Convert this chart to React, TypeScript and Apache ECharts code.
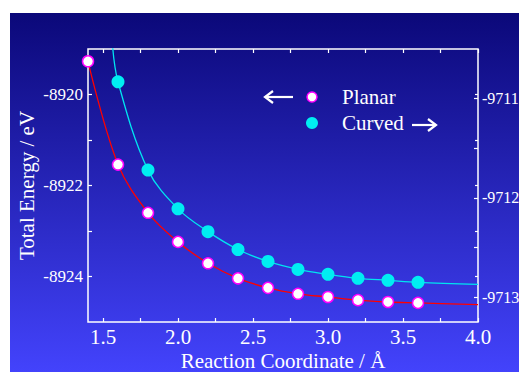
import React, { useEffect, useRef } from "react";
import * as echarts from "echarts";

// Data
const planarX = [1.4, 1.6, 1.8, 2.0, 2.2, 2.4, 2.6, 2.8, 3.0, 3.2, 3.4, 3.6];
const planarY = [-8919.27, -8921.54, -8922.6, -8923.24, -8923.71, -8924.04, -8924.25, -8924.38, -8924.45, -8924.52, -8924.56, -8924.58];
const curvedX = [1.6, 1.8, 2.0, 2.2, 2.4, 2.6, 2.8, 3.0, 3.2, 3.4, 3.6];
const curvedY = [-9710.83, -9711.72, -9712.11, -9712.34, -9712.52, -9712.64, -9712.72, -9712.77, -9712.81, -9712.83, -9712.85];

// Fitted curves
const planarFitX = [1.4, 1.6, 1.8, 2.0, 2.2, 2.4, 2.6, 2.8, 3.0, 3.2, 3.4, 3.6, 4.0];
const planarFitY = [-8919.27, -8921.54, -8922.6, -8923.24, -8923.71, -8924.04, -8924.25, -8924.38, -8924.45, -8924.52, -8924.56, -8924.58, -8924.62];
const curvedFitX = [1.56, 1.6, 1.8, 2.0, 2.2, 2.4, 2.6, 2.8, 3.0, 3.2, 3.4, 3.6, 4.0];
const curvedFitY = [-9710.4, -9710.83, -9711.72, -9712.11, -9712.34, -9712.52, -9712.64, -9712.72, -9712.77, -9712.81, -9712.83, -9712.85, -9712.87];

// Axis ticks and labels
const xLabels = [1.5, 2.0, 2.5, 3.0, 3.5, 4.0];
const xTicks = [1.5, 1.75, 2.0, 2.25, 2.5, 2.75, 3.0, 3.25, 3.5, 3.75, 4.0];
const leftLabels = [-8924, -8922, -8920];
const leftTicks = [-8924, -8923, -8922, -8921, -8920];
const rightLabels = [-9713, -9712, -9711];
const rightTicks = [-9713, -9712.5, -9712, -9711.5, -9711];

const FONT = "'Liberation Serif', 'DejaVu Serif', serif";

const App: React.FC = () => {
  const ref = useRef<HTMLDivElement>(null);

  useEffect(() => {
    document.body.style.margin = "0";
    if (!ref.current) return;
    const chart = echarts.init(ref.current, undefined, { renderer: "svg" });

    const zip = (xs: number[], ys: number[]) => xs.map((x, i) => [x, ys[i]]);

    const baseX = {
      type: "value" as const,
      min: 1.4,
      max: 4.0,
      splitLine: { show: false },
      axisLine: { show: false, onZero: false },
    };

    const tickStyle = { color: "#fff", width: 1.2 };

    const option: any = {
      animation: false,
      backgroundColor: "#ffffff",
      graphic: [
        {
          type: "rect",
          z: -10,
          silent: true,
          shape: { x: 10, y: 13, width: 509, height: 359 },
          style: {
            fill: {
              type: "linear",
              x: 0,
              y: 0,
              x2: 0,
              y2: 1,
              colorStops: [
                { offset: 0, color: "#0b0879" },
                { offset: 1, color: "#4343fc" },
              ],
            },
          },
        },
        // legend arrows
        { type: "line", z: 10, shape: { x1: 265, y1: 97, x2: 293, y2: 97 }, style: { stroke: "#fff", lineWidth: 2.2 } },
        { type: "polyline", z: 10, shape: { points: [[273, 91], [265, 97], [273, 103]] }, style: { stroke: "#fff", lineWidth: 2.2, fill: null } },
        { type: "line", z: 10, shape: { x1: 412, y1: 125, x2: 436, y2: 125 }, style: { stroke: "#fff", lineWidth: 2.2 } },
        { type: "polyline", z: 10, shape: { points: [[428, 119], [436, 125], [428, 131]] }, style: { stroke: "#fff", lineWidth: 2.2, fill: null } },
        // legend markers
        { type: "circle", z: 10, shape: { cx: 312, cy: 97, r: 5 }, style: { fill: "#ffffff", stroke: "#ff00ff", lineWidth: 1.5 } },
        { type: "circle", z: 10, shape: { cx: 312, cy: 123, r: 6 }, style: { fill: "#00eef2" } },
        // legend texts
        { type: "text", z: 10, x: 342, y: 97, style: { text: "Planar", fill: "#fff", font: `21px ${FONT}`, verticalAlign: "middle" } },
        { type: "text", z: 10, x: 342, y: 123, style: { text: "Curved", fill: "#fff", font: `21px ${FONT}`, verticalAlign: "middle" } },
      ],
      grid: {
        left: 88,
        right: 41,
        top: 49,
        bottom: 50,
        show: true,
        containLabel: false,
        outerBoundsMode: "none",
        borderColor: "#ffffff",
        borderWidth: 1.5,
        backgroundColor: "transparent",
      },
      xAxis: [
        {
          ...baseX,
          position: "bottom",
          name: "Reaction Coordinate / Å",
          nameLocation: "middle",
          nameGap: 28,
          nameMoveOverlap: false,
          nameTextStyle: { color: "#fff", fontFamily: FONT, fontSize: 21, lineHeight: 21 },
          axisTick: { show: true, inside: true, length: 4, customValues: xTicks, lineStyle: tickStyle },
          axisLabel: {
            show: true,
            customValues: xLabels,
            showMinLabel: true,
            showMaxLabel: true,
            hideOverlap: false,
            color: "#fff",
            fontFamily: FONT,
            fontSize: 21,
            margin: 4,
            formatter: (v: number) => v.toFixed(1),
          },
        },
        {
          ...baseX,
          position: "top",
          axisTick: { show: true, inside: true, length: 4, customValues: xTicks, lineStyle: tickStyle },
          axisLabel: { show: false },
        },
      ],
      yAxis: [
        {
          type: "value",
          position: "left",
          min: -8925,
          max: -8919,
          splitLine: { show: false },
          axisLine: { show: false },
          name: "Total Energy / eV",
          nameLocation: "middle",
          nameGap: 51,
          nameMoveOverlap: false,
          nameRotate: 90,
          nameTextStyle: { color: "#fff", fontFamily: FONT, fontSize: 21 },
          axisTick: { show: true, inside: true, length: 4, customValues: leftTicks, lineStyle: tickStyle },
          axisLabel: {
            show: true,
            customValues: leftLabels,
            showMinLabel: true,
            showMaxLabel: true,
            color: "#fff",
            fontFamily: FONT,
            fontSize: 17,
            margin: 5,
            formatter: (v: number) => String(v),
          },
        },
        {
          type: "value",
          position: "right",
          min: -9713.25,
          max: -9710.5,
          splitLine: { show: false },
          axisLine: { show: false },
          axisTick: { show: true, inside: true, length: 4, customValues: rightTicks, lineStyle: tickStyle },
          axisLabel: {
            show: true,
            customValues: rightLabels,
            showMinLabel: true,
            showMaxLabel: true,
            color: "#fff",
            fontFamily: FONT,
            fontSize: 16,
            margin: 4,
            formatter: (v: number) => String(v),
          },
        },
        {
          type: "value",
          position: "right",
          min: -8925,
          max: -8919,
          splitLine: { show: false },
          axisLine: { show: false },
          axisTick: { show: true, inside: true, length: 3, customValues: leftTicks, lineStyle: tickStyle },
          axisLabel: { show: false },
        },
      ],
      series: [
        {
          name: "Planar fit",
          type: "line",
          xAxisIndex: 0,
          yAxisIndex: 0,
          data: zip(planarFitX, planarFitY),
          showSymbol: false,
          smooth: 0.35,
          lineStyle: { color: "#ff0000", width: 1.3 },
          z: 2,
        },
        {
          name: "Curved fit",
          type: "line",
          xAxisIndex: 0,
          yAxisIndex: 1,
          data: zip(curvedFitX, curvedFitY),
          showSymbol: false,
          smooth: 0.35,
          lineStyle: { color: "#00e4f0", width: 1.3 },
          z: 2,
        },
        {
          name: "Planar",
          type: "scatter",
          xAxisIndex: 0,
          yAxisIndex: 0,
          data: zip(planarX, planarY),
          symbol: "circle",
          symbolSize: 11,
          clip: false,
          itemStyle: { color: "#ffffff", borderColor: "#ff00ff", borderWidth: 1.5, opacity: 1 },
          z: 5,
        },
        {
          name: "Curved",
          type: "scatter",
          xAxisIndex: 0,
          yAxisIndex: 1,
          data: zip(curvedX, curvedY),
          symbol: "circle",
          symbolSize: 13,
          clip: false,
          itemStyle: { color: "#00eef2", opacity: 1 },
          z: 5,
        },
      ],
    };

    chart.setOption(option);
    return () => chart.dispose();
  }, []);

  return <div ref={ref} style={{ width: 519, height: 372 }} />;
};

export default App;
